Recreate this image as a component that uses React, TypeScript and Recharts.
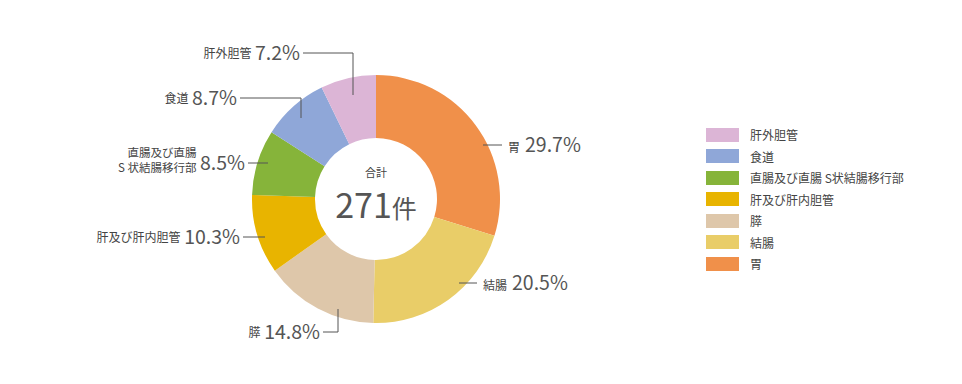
import React from 'react';
import { PieChart, Pie, Cell, Legend } from 'recharts';

// data
const CATEGORIES = ['胃', '結腸', '膵', '肝及び肝内胆管', '直腸及び直腸 S状結腸移行部', '食道', '肝外胆管'];
const SHARES = [29.7, 20.5, 14.8, 10.3, 8.5, 8.7, 7.2];
const LABEL_NAMES = [['胃'], ['結腸'], ['膵'], ['肝及び肝内胆管'], ['直腸及び直腸', 'S 状結腸移行部'], ['食道'], ['肝外胆管']];
const COLORS = ['#F0904A', '#E9CD68', '#DEC7AA', '#E8B400', '#86B43A', '#8FA7D8', '#DCB5D6'];
const TOTAL_LABEL = '合計';
const TOTAL_COUNT = 271;
const TOTAL_UNIT = '件';

// leader line guides, offsets from the pie centre
const GUIDES: number[][][] = [
  [[107, -54], [126, -54]],
  [[83, 84], [101, 84]],
  [[-38, 110], [-38, 133], [-53, 133]],
  [[-111, 38], [-133, 38]],
  [[-108, -36], [-128, -36]],
  [[-75, -81], [-75, -101], [-136, -101]],
  [[-23, -104], [-23, -146], [-73, -146]],
];

const FONT = '"Noto Sans CJK JP", "Noto Sans", sans-serif';
const CX = 376;
const CY = 199;

const data = CATEGORIES.map((name, i) => ({ name, value: SHARES[i], color: COLORS[i] }));

const pctWidth = (s: string, fs: number) =>
  s.split('').reduce((w, c) => w + (c === '.' ? 0.27 : c === '%' ? 0.84 : 0.56) * fs, 0);

const renderLabel = (props: any) => {
  const cx = props.cx ?? CX;
  const cy = props.cy ?? CY;
  const index = props.index;
  const guide = GUIDES[index];
  const pts = guide.map(([dx, dy]) => `${cx + dx},${cy + dy}`).join(' ');
  const [lx, ly] = guide[guide.length - 1];
  const right = lx > 0;
  const pct = `${SHARES[index]}%`;
  const names = LABEL_NAMES[index];
  const ex = cx + lx;
  const ey = cy + ly;

  let textEls: React.ReactNode;
  if (right) {
    textEls = (
      <text x={ex + 6} y={ey + 7} textAnchor="start" fill="#555" fontFamily={FONT}>
        <tspan fontSize={12} fill="#444">{names[0]}</tspan>
        <tspan dx={5} fontSize={19.5}>{pct}</tspan>
      </text>
    );
  } else {
    const pctEnd = ex - 3;
    const nameEnd = pctEnd - pctWidth(pct, 19.5) - 5;
    textEls = (
      <g fontFamily={FONT}>
        <text x={pctEnd} y={ey + 7} textAnchor="end" fill="#555" fontSize={19.5}>{pct}</text>
        {names.length === 1 ? (
          <text x={nameEnd} y={ey + 5} textAnchor="end" fill="#444" fontSize={12}>{names[0]}</text>
        ) : (
          <text textAnchor="end" fill="#444" fontSize={11.5}>
            <tspan x={nameEnd} y={ey - 6}>{names[0]}</tspan>
            <tspan x={nameEnd} y={ey + 9}>{names[1]}</tspan>
          </text>
        )}
      </g>
    );
  }

  return (
    <g key={`lbl-${index}`}>
      <polyline points={pts} fill="none" stroke="#555" strokeWidth={1} />
      {textEls}
      {index === 0 && (
        <g fontFamily={FONT} textAnchor="middle">
          <text x={cx} y={cy - 22} fontSize={11} fill="#444">{TOTAL_LABEL}</text>
          <text x={cx} y={cy + 19} fill="#555">
            <tspan fontSize={34}>{TOTAL_COUNT}</tspan>
            <tspan fontSize={25}>{TOTAL_UNIT}</tspan>
          </text>
        </g>
      )}
    </g>
  );
};

const LegendBox = () => (
  <div style={{ fontFamily: FONT, fontSize: 12, color: '#444' }}>
    {[...data].reverse().map((d) => (
      <div key={d.name} style={{ display: 'flex', alignItems: 'center', height: 21.5 }}>
        <span style={{ display: 'inline-block', width: 33, height: 14, background: d.color, marginRight: 11 }} />
        <span>{d.name}</span>
      </div>
    ))}
  </div>
);

export default function App() {
  return (
    <div style={{ position: 'absolute', left: 0, top: 0, width: 962, height: 384, background: '#fff' }}>
      <PieChart width={962} height={384} margin={{ top: 0, right: 0, bottom: 0, left: 0 }}>
        <Pie
          data={data}
          dataKey="value"
          nameKey="name"
          cx={CX}
          cy={CY}
          innerRadius={61}
          outerRadius={124}
          startAngle={90}
          endAngle={-270}
          stroke="none"
          label={renderLabel}
          labelLine={false}
          isAnimationActive={false}
        >
          {data.map((d) => (
            <Cell key={d.name} fill={d.color} />
          ))}
        </Pie>
        <Legend
          content={<LegendBox />}
          wrapperStyle={{ position: 'absolute', left: 706, top: 124, width: 240 }}
        />
      </PieChart>
    </div>
  );
}
